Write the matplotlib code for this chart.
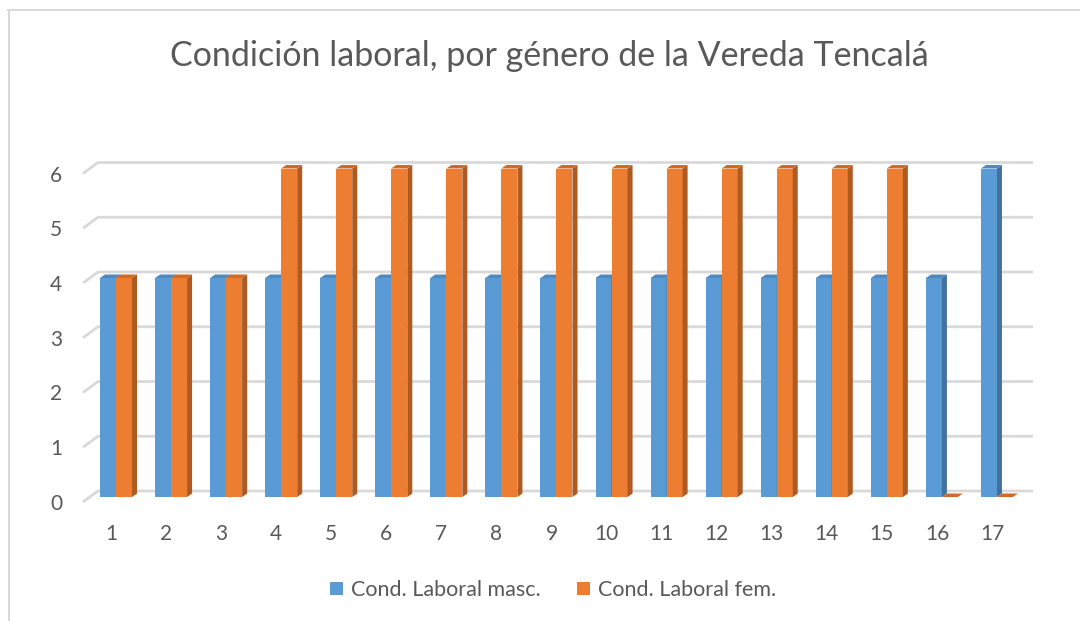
import matplotlib
matplotlib.use("Agg")
import matplotlib.pyplot as plt
from matplotlib.patches import Polygon, Patch
from matplotlib.lines import Line2D
from matplotlib.transforms import ScaledTranslation

# ---- data ----
categories = [str(i) for i in range(1, 18)]
masc = [4, 4, 4, 4, 4, 4, 4, 4, 4, 4, 4, 4, 4, 4, 4, 4, 6]
fem = [4, 4, 4, 6, 6, 6, 6, 6, 6, 6, 6, 6, 6, 6, 6, 0, 0]
series_names = ["Cond. Laboral masc.", "Cond. Laboral fem."]
y_ticks = [0, 1, 2, 3, 4, 5, 6]
title = "Condición laboral, por género de la Vereda Tencalá"

# ---- style ----
FONT = ["Lato", "DejaVu Sans"]
plt.rcParams["font.family"] = FONT
TEXT = "#595959"
GRID = "#D9D9D9"
front_cols = ["#5B9BD5", "#ED7D31"]
side_cols = ["#41719C", "#AE5A21"]
top_cols = ["#4F89BE", "#D26A26"]

W, H, DPI = 1080, 621, 100
fig = plt.figure(figsize=(W / DPI, H / DPI), dpi=DPI)
fig.patch.set_facecolor("white")

# pixel geometry of plot area
px_left, px_right = 83, 1035
py_top, py_bottom = 150, 502
ax = fig.add_axes([px_left / W, (H - py_bottom) / H,
                   (px_right - px_left) / W, (py_bottom - py_top) / H])
xpx = 55.06   # px per category
ypx = 54.75   # px per unit
x0px, y0px = 116, 497   # pixel of category 1 centre, value 0 (bar plane)
ax.set_xlim(1 + (px_left - x0px) / xpx, 1 + (px_right - x0px) / xpx)
ax.set_ylim((y0px - py_bottom) / ypx, (y0px - py_top) / ypx)
ax.set_facecolor("none")
for s in ax.spines.values():
    s.set_visible(False)

# depth offsets in data units
bdx, bdy = 5.0 / xpx, 3.5 / ypx          # bar depth
g_front_dy = -5.0 / ypx                   # gridline front edge
g_back_dy = 6.0 / ypx                     # gridline back plane
g_back_x0 = 1 + (98 - x0px) / xpx
g_front_x0 = 1 + (83 - x0px) / xpx
g_back_x1 = 1 + (1033 - x0px) / xpx

for v in y_ticks:
    ax.plot([g_front_x0, g_back_x0, g_back_x1],
            [v + g_front_dy, v + g_back_dy, v + g_back_dy],
            color=GRID, lw=2.0, zorder=1, solid_capstyle="butt",
            clip_on=False)

bw = 16.0 / xpx
xs = list(range(1, len(categories) + 1))
for i, x in enumerate(xs):
    for k, vals in enumerate([masc, fem]):
        v = vals[i]
        left = x - bw + k * bw
        z = 3 + i * 2 + k
        ax.bar(left, v, width=bw, align="edge", color=front_cols[k],
               linewidth=0, zorder=z)
        # side face
        ax.add_patch(Polygon([(left + bw, 0), (left + bw + bdx, bdy),
                              (left + bw + bdx, v + bdy), (left + bw, v)],
                             closed=True, facecolor=side_cols[k],
                             edgecolor="none", zorder=z))
        # top face
        ax.add_patch(Polygon([(left, v), (left + bw, v),
                              (left + bw + bdx, v + bdy), (left + bdx, v + bdy)],
                             closed=True, facecolor=top_cols[k],
                             edgecolor="none", zorder=z))

# ticks
ax.set_xticks(xs)
ax.set_xticklabels(categories)
ax.set_yticks(y_ticks)
ax.set_yticklabels([str(v) for v in y_ticks])
ax.tick_params(axis="both", length=0, labelsize=15, labelcolor=TEXT)
ax.tick_params(axis="y", pad=15)
ax.tick_params(axis="x", pad=15.5)
for lab in ax.get_xticklabels():
    lab.set_transform(lab.get_transform() +
                      ScaledTranslation(-5 / DPI, 0, fig.dpi_scale_trans))
for lab in ax.get_yticklabels():
    lab.set_transform(lab.get_transform() +
                      ScaledTranslation(0, -5 / DPI, fig.dpi_scale_trans))

# title
fig.text(549 / W, 1 - 56 / H, title, ha="center", va="center",
         fontsize=24.5, color=TEXT)

# legend
handles = [Patch(facecolor=front_cols[k], edgecolor="none", label=series_names[k])
           for k in range(2)]
fig.legend(handles=handles, loc="center", bbox_to_anchor=(553 / W, 1 - 590 / H),
           ncol=2, frameon=False, fontsize=15.5, labelcolor=TEXT,
           handlelength=0.6, handleheight=0.6, handletextpad=0.35,
           columnspacing=1.7)

# chart border (top and left)
fig.add_artist(Line2D([8 / W, 1], [1 - 9.5 / H, 1 - 9.5 / H],
                      color=GRID, lw=1.5, transform=fig.transFigure))
fig.add_artist(Line2D([8.5 / W, 8.5 / W], [1 - 9.5 / H, 0],
                      color=GRID, lw=1.5, transform=fig.transFigure))

fig.savefig("out.png", dpi=DPI)
